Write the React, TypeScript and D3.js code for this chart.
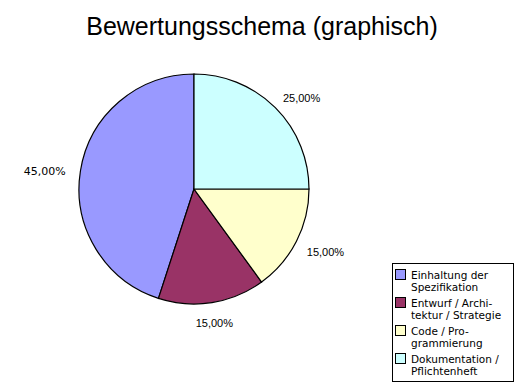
import React from "react";
import * as d3 from "d3";

const categories = [
  ["Einhaltung der", "Spezifikation"],
  ["Entwurf / Archi-", "tektur / Strategie"],
  ["Code / Pro-", "grammierung"],
  ["Dokumentation /", "Pflichtenheft"],
];
const values = [45, 15, 15, 25];
const labels = ["45,00%", "15,00%", "15,00%", "25,00%"];
const colors = ["#9999FF", "#993366", "#FFFFCC", "#CCFFFF"];
const title = "Bewertungsschema (graphisch)";

export default function App() {
  const W = 516, H = 384;
  const cx = 194, cy = 189, r = 115;
  const pie = d3
    .pie<number>()
    .sort(null)
    .value((d) => d)
    .startAngle(0)
    .endAngle(-2 * Math.PI);
  const arcs = pie(values);
  const arc = d3.arc<d3.PieArcDatum<number>>().innerRadius(0).outerRadius(r);
  const labelArc = d3.arc<d3.PieArcDatum<number>>().innerRadius(130).outerRadius(130);

  return (
    <svg
      width={W}
      height={H}
      style={{ position: "absolute", left: 0, top: 0, background: "#fff" }}
    >
      <rect x={0} y={0} width={W} height={H} fill="#fff" />
      <text
        x={262}
        y={35}
        textAnchor="middle"
        fontFamily="Liberation Sans, Arial, sans-serif"
        fontSize={25}
        fill="#000"
      >
        {title}
      </text>
      <g transform={`translate(${cx},${cy})`}>
        {arcs.map((a, i) => (
          <path key={i} d={arc(a) || ""} fill={colors[i]} stroke="#000" strokeWidth={1.2} />
        ))}
        {arcs.map((a, i) => {
          const [lx, ly] = labelArc.centroid(a);
          const mid = (a.startAngle + a.endAngle) / 2;
          const s = Math.sin(mid);
          const anchor = Math.abs(s) < 0.3 ? "middle" : s > 0 ? "start" : "end";
          const dx = anchor === "start" ? -3 : 0;
          const dy = 7 - 3 * Math.cos(mid);
          return (
            <text
              key={i}
              x={lx + dx}
              y={ly + dy}
              textAnchor={anchor}
              fontFamily={anchor === "end" ? "DejaVu Sans, sans-serif" : "Liberation Sans, Arial, sans-serif"}
              fontSize={11}
              fill="#000"
            >
              {labels[i]}
            </text>
          );
        })}
      </g>
      <rect x={392.5} y={263.5} width={121} height={118} fill="#fff" stroke="#000" strokeWidth={1} />
      {categories.map((lines, i) => (
        <g key={i} transform={`translate(395, ${269 + i * 28})`}>
          <rect x={0.5} y={0.5} width={10} height={10} fill={colors[i]} stroke="#000" strokeWidth={1} />
          {lines.map((t, j) => (
            <text
              key={j}
              x={16}
              y={10 + j * 11.5}
              fontFamily="DejaVu Sans, sans-serif"
              fontSize={10.5}
              fill="#000"
            >
              {t}
            </text>
          ))}
        </g>
      ))}
    </svg>
  );
}
